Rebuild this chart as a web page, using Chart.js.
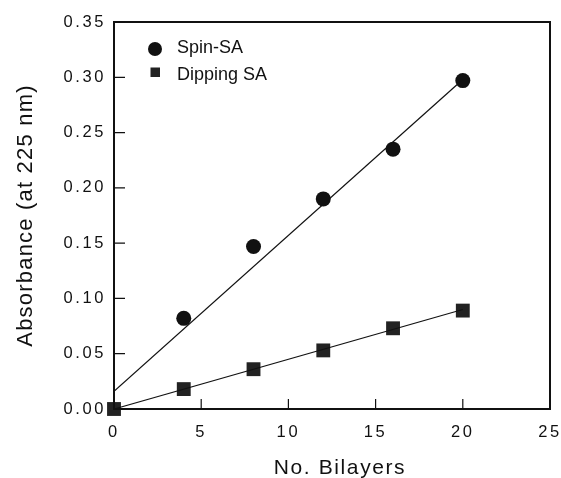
<!DOCTYPE html>
<html><head><meta charset="utf-8">
<script src="https://cdn.jsdelivr.net/npm/chart.js@4/dist/chart.umd.min.js"></script>
<style>html,body{margin:0;padding:0;background:#fff}#wrap{width:561px;height:478px}</style>
</head><body><div id="wrap"><canvas id="c" width="561" height="478"></canvas></div>
<script>
const bilayers = [4, 8, 12, 16, 20];
const spinSA = [0.082, 0.147, 0.190, 0.235, 0.297];
const dipX = [0, 4, 8, 12, 16, 20];
const dippingSA = [0.000, 0.018, 0.036, 0.053, 0.073, 0.089];
const spinFitX = [0, 20];
const spinFitY = [0.016, 0.298];
const dipFitX = [0, 20];
const dipFitY = [0.000, 0.090];
const xTicks = [0, 5, 10, 15, 20, 25];
const yTicks = [0.00, 0.05, 0.10, 0.15, 0.20, 0.25, 0.30, 0.35];
const xTitle = 'No. Bilayers';
const yTitle = 'Absorbance (at 225 nm)';
const legendLabels = ['Spin-SA', 'Dipping SA'];

const pts = (xs, ys) => xs.map((x, i) => ({x, y: ys[i]}));
const sans = '"Liberation Sans", Arial, sans-serif';

const framePlugin = {
  id: 'frame',
  beforeDraw(chart) { chart.ctx.letterSpacing = '2.6px'; },
  afterDraw(chart) {
    const {ctx, chartArea: a, scales: {x, y}} = chart;
    ctx.save();
    ctx.letterSpacing = '0px';
    ctx.strokeStyle = '#111';
    ctx.lineWidth = 2;
    ctx.strokeRect(a.left, a.top, a.right - a.left, a.bottom - a.top);
    ctx.lineWidth = 1.2;
    ctx.beginPath();
    yTicks.forEach(v => { const py = y.getPixelForValue(v); ctx.moveTo(a.left, py); ctx.lineTo(a.left + 11, py); });
    xTicks.forEach(v => { const px = x.getPixelForValue(v); ctx.moveTo(px, a.bottom); ctx.lineTo(px, a.bottom - 10); });
    ctx.stroke();
    // legend
    ctx.fillStyle = '#111';
    ctx.beginPath(); ctx.arc(a.left + 41, a.top + 27, 7, 0, Math.PI * 2); ctx.fill();
    ctx.fillStyle = '#222';
    ctx.fillRect(a.left + 36.5, a.top + 45.5, 9.5, 9.5);
    ctx.fillStyle = '#111';
    ctx.font = '18px ' + sans;
    ctx.textBaseline = 'alphabetic';
    ctx.textAlign = 'left';
    ctx.fillText(legendLabels[0], a.left + 63, a.top + 31);
    ctx.fillText(legendLabels[1], a.left + 63, a.top + 58);
    // axis titles
    ctx.font = '21px ' + sans;
    ctx.letterSpacing = '1.6px';
    ctx.textAlign = 'center';
    ctx.fillText(xTitle, (a.left + a.right) / 2 + 8, 474);
    ctx.save();
    ctx.font = '22px ' + sans;
    ctx.letterSpacing = '1.2px';
    ctx.translate(32, (a.top + a.bottom) / 2);
    ctx.rotate(-Math.PI / 2);
    ctx.fillText(yTitle, 0, 0);
    ctx.restore();
    ctx.restore();
  }
};

new Chart(document.getElementById('c'), {
  type: 'scatter',
  data: {
    datasets: [
      {label: 'Spin-SA fit', type: 'line', data: pts(spinFitX, spinFitY), borderColor: '#111', borderWidth: 1.2, pointRadius: 0, fill: false},
      {label: 'Dipping SA fit', type: 'line', data: pts(dipFitX, dipFitY), borderColor: '#111', borderWidth: 1.2, pointRadius: 0, fill: false},
      {label: 'Spin-SA', data: pts(bilayers, spinSA), pointStyle: 'circle', pointRadius: 7.5, backgroundColor: '#111', borderColor: '#111', borderWidth: 0, clip: false},
      {label: 'Dipping SA', data: pts(dipX, dippingSA), pointStyle: 'rect', pointRadius: 9.8, backgroundColor: '#222', borderColor: '#111', borderWidth: 0, clip: false}
    ]
  },
  options: {
    responsive: false,
    animation: false,
    devicePixelRatio: 1,
    layout: {padding: {top: 22, right: 11, left: 0, bottom: 0}},
    plugins: {legend: {display: false}, tooltip: {enabled: false}},
    scales: {
      x: {
        type: 'linear', min: 0, max: 25,
        afterBuildTicks: s => { s.ticks = xTicks.map(v => ({value: v})); },
        afterFit: s => { s.height = 69; s.paddingLeft = 0; s.paddingRight = 0; },
        grid: {display: false, drawTicks: false},
        border: {display: false},
        ticks: {color: '#111', font: {family: sans, size: 16.5}, padding: 14, maxRotation: 0, callback: v => String(v)},
        title: {display: false}
      },
      y: {
        type: 'linear', min: 0, max: 0.35,
        afterBuildTicks: s => { s.ticks = yTicks.map(v => ({value: v})); },
        afterFit: s => { s.width = 114; s.paddingTop = 0; s.paddingBottom = 0; },
        grid: {display: false, drawTicks: false},
        border: {display: false},
        ticks: {color: '#111', font: {family: sans, size: 16.5}, padding: 8, callback: v => v.toFixed(2)},
        title: {display: false}
      }
    }
  },
  plugins: [framePlugin]
});
</script></body></html>
